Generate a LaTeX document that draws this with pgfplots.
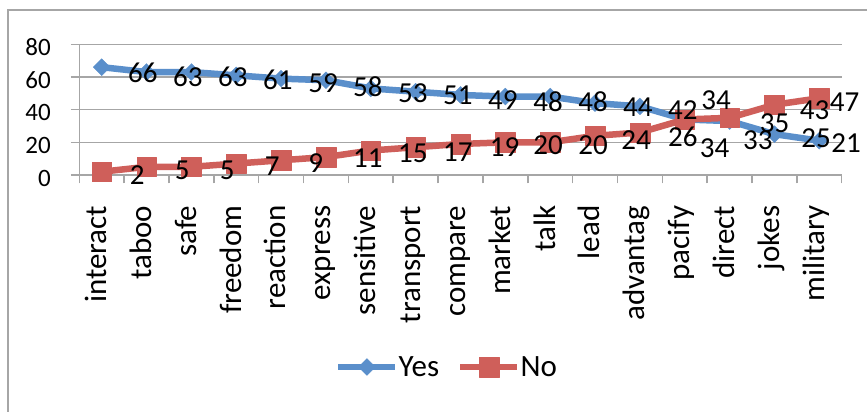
\documentclass[border=0pt]{standalone}
\usepackage{pgfplots}
\pgfplotsset{compat=1.18}
\usepackage{pgfplotstable}
\usepackage{fontspec}
\setmainfont{Carlito}
\definecolor{yesblue}{HTML}{5A8FCB}
\definecolor{nored}{HTML}{CF5F5A}
\definecolor{gridgray}{HTML}{A6A6A6}
\newcommand{\tickfont}{\fontsize{25}{30}\selectfont}
\newcommand{\labfont}{\fontsize{29}{34}\selectfont}
\newcommand{\catfont}{\fontsize{31}{37}\selectfont}

\pgfplotstableread{
x y dx dy
0 66 26.3 -6.1
1 63 26.4 -4.6
2 63 26.6 -4.6
3 61 26.7 -4.0
4 59 27.0 -4.7
5 58 27.0 -6.5
6 53 27.2 -4.9
7 51 27.3 -3.3
8 49 27.5 -5.1
9 48 27.8 -5.1
10 48 27.9 -5.1
11 44 27.9 -3.6
12 42 28.1 -3.6
13 34 15.0 -28.6
14 33 13.4 -18.9
15 25 26.8 -3.9
16 21 12.0 -2.3
}\yestable

\pgfplotstableread{
x y dx dy
0 2 28.0 -3.3
1 5 28.1 -3.2
2 5 28.3 -3.2
3 7 28.4 -3.1
4 9 27.0 -2.7
5 11 27.0 -1.0
6 15 27.2 -2.5
7 17 27.3 -4.5
8 19 29.2 -2.7
9 20 27.8 -2.7
10 20 27.9 -2.7
11 24 26.2 -4.2
12 26 28.1 -4.2
13 34 16.5 19.4
14 35 30.1 -5.2
15 43 25.2 -5.3
16 47 10.4 -3.5
}\notable

\begin{document}
\begin{tikzpicture}
\useasboundingbox (0,0) rectangle (867pt,412pt);
\fill[white] (0,0) rectangle (867pt,412pt);
\draw[draw=gridgray, line width=1.5pt] (8pt,402pt) rectangle (900pt,-30pt);
\begin{axis}[
  at={(79.3pt,237pt)}, anchor=south west,
  width=762.4pt, height=130.7pt, scale only axis,
  xmin=-0.5, xmax=16.5, ymin=0, ymax=80,
  ytick={0,20,40,60,80},
  xtick={-0.5,0.5,...,16.5},
  x tick label as interval,
  xticklabels={interact,taboo,safe,freedom,reaction,express,sensitive,transport,compare,market,talk,lead,advantag,pacify,direct,jokes,military},
  axis x line*=bottom, axis y line*=left,
  axis line style={draw=gridgray, line width=1.5pt, -},
  ymajorgrids, grid style={draw=gridgray, line width=1.5pt},
  tick align=outside,
  major tick length=8.5pt,
  tick style={draw=gridgray, line width=1.5pt},
  /pgf/number format/assume math mode=true,
  yticklabel style={font=\tickfont, anchor=east, inner sep=0pt, yshift=-3pt},
  yticklabel shift=19.8pt,
  xticklabel style={font=\catfont, rotate=90, anchor=east, inner sep=0pt, text height=0.96em, text depth=0pt},
  xticklabel shift=22pt,
  clip=false,
  legend style={at={(axis description cs:0.3354,-1.469)}, anchor=west, draw=none, fill=none, inner sep=0pt,
    legend columns=2, font=\catfont,
    /tikz/every even column/.append style={column sep=18pt},
    /tikz/every odd column/.append style={column sep=0pt},
    nodes={inner sep=0pt, anchor=west}},
  legend image code/.code={\draw[mark repeat=2, mark phase=2, #1] plot coordinates {(0pt,0pt) (28.5pt,0pt) (57pt,0pt)};},
]
\addplot[yesblue, line width=6.5pt, line join=round, mark=square*, mark size=6pt,
  mark options={rotate=45, solid, fill=yesblue, draw=yesblue, line width=0.3pt}]
  table[x=x, y=y] {\yestable};
\addlegendentry{Yes}
\addplot[nored, line width=6.5pt, line join=round, mark=square*, mark size=9.8pt,
  mark options={solid, fill=nored, draw=nored, line width=0.3pt}]
  table[x=x, y=y] {\notable};
\addlegendentry{No}
\addplot[draw=none, mark=none, forget plot, nodes near coords, point meta=explicit,
  visualization depends on={\thisrow{dx} \as \ldx},
  visualization depends on={\thisrow{dy} \as \ldy},
  nodes near coords style={anchor=west, inner sep=0pt, xshift=\ldx pt, yshift=\ldy pt, font=\labfont, text=black}]
  table[x=x, y=y, meta=y] {\yestable};
\addplot[draw=none, mark=none, forget plot, nodes near coords, point meta=explicit,
  visualization depends on={\thisrow{dx} \as \ldx},
  visualization depends on={\thisrow{dy} \as \ldy},
  nodes near coords style={anchor=west, inner sep=0pt, xshift=\ldx pt, yshift=\ldy pt, font=\labfont, text=black}]
  table[x=x, y=y, meta=y] {\notable};
\end{axis}
\end{tikzpicture}
\end{document}
